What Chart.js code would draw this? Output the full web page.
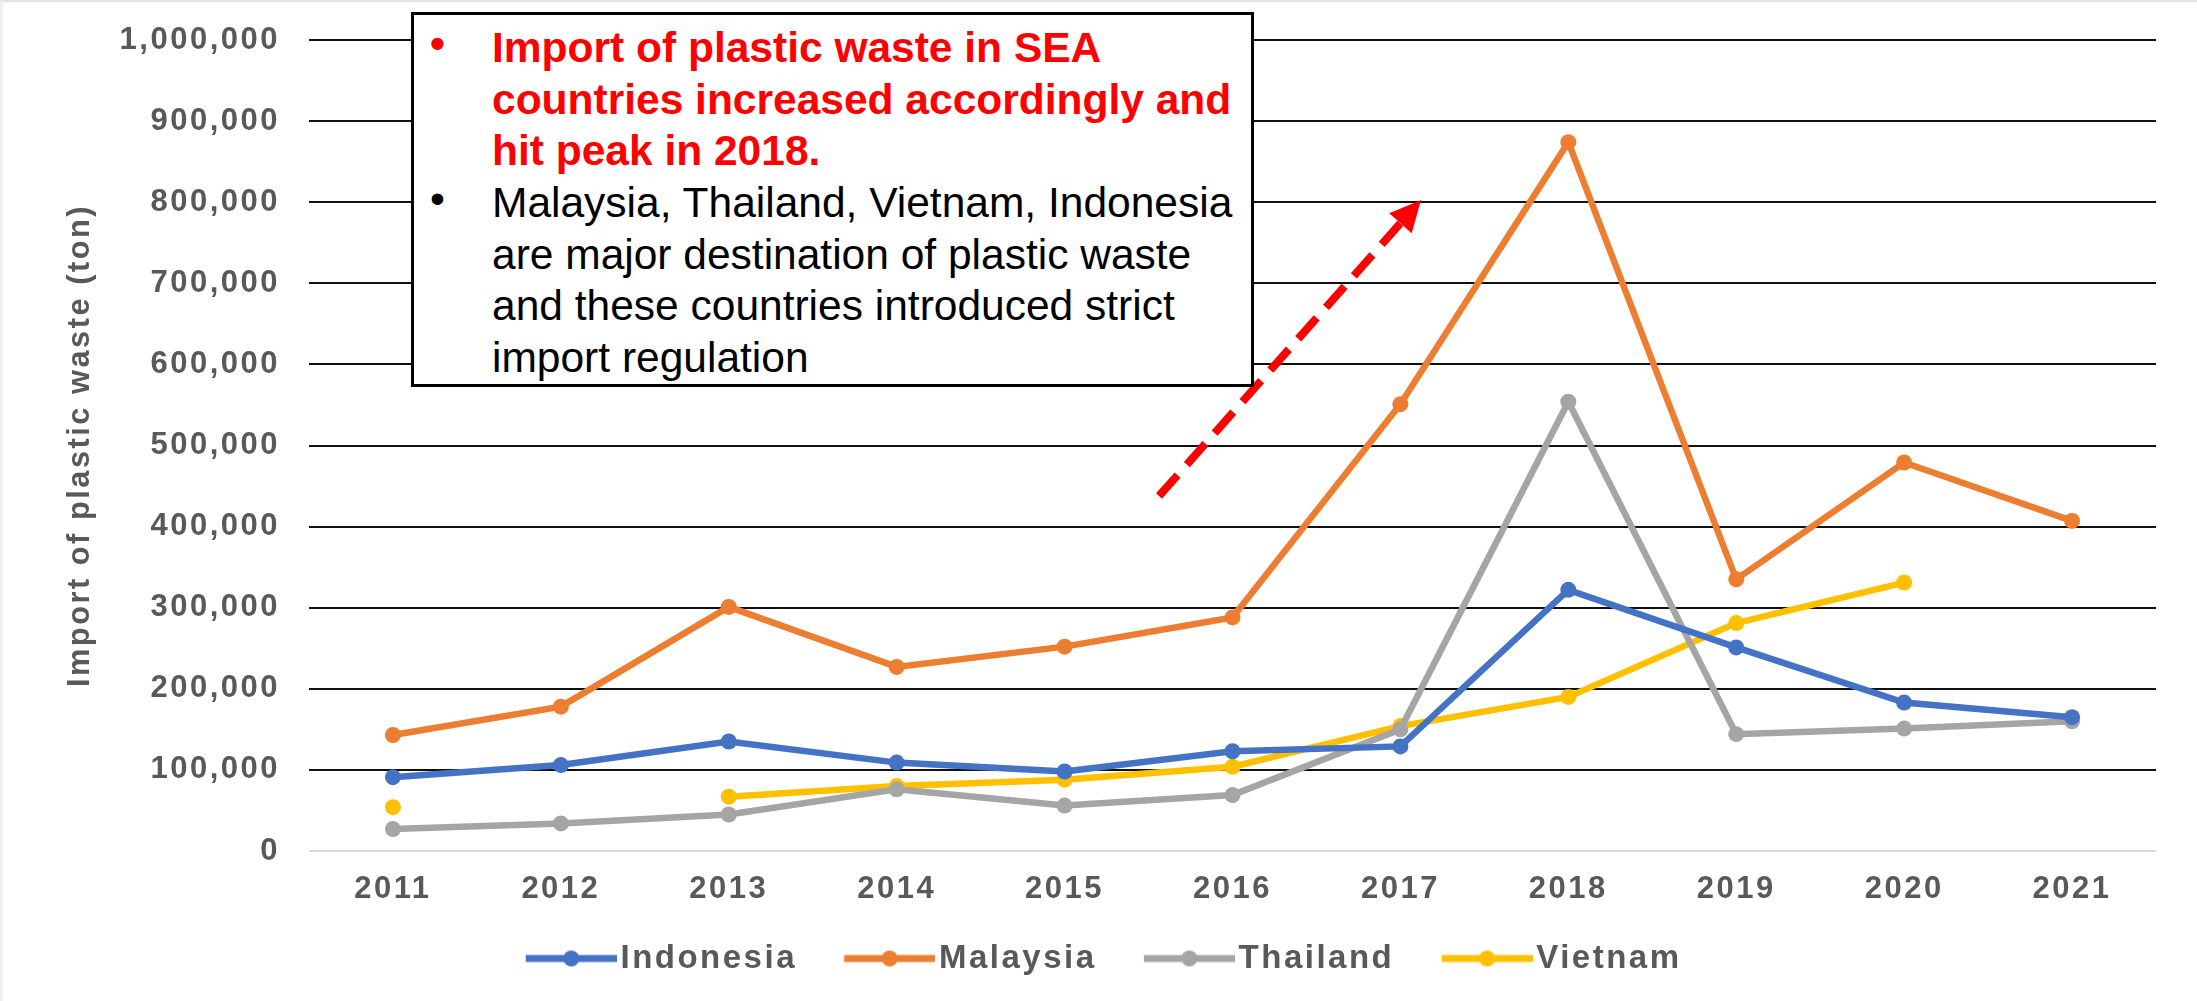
<!DOCTYPE html>
<html>
<head>
<meta charset="utf-8">
<title>Import of plastic waste in SEA countries</title>
<script src="https://cdn.jsdelivr.net/npm/chart.js@4.4.0/dist/chart.umd.min.js"></script>
<style>
    html, body { margin: 0; padding: 0; background: #fff; }
    #wrap { position: relative; width: 2197px; height: 1001px; overflow: hidden; box-sizing: border-box; border-top: 2px solid #e4e4e4; border-left: 3px solid #f0f0f0; }
    #chart { position: absolute; left: -3px; top: -2px; }
    .note {
        position: absolute; left: 408px; top: 10px; width: 843px; height: 375px;
        box-sizing: border-box; border: 3px solid #000; background: #fff;
        font-family: "Liberation Sans", Arial, sans-serif; font-size: 42.5px;
        padding: 7px 0 0 78px;
    }
    .note .line { height: 51.7px; line-height: 51.7px; white-space: nowrap; position: relative; }
    .note .red { color: #ff0000; font-weight: bold; }
    .note .black { color: #000; }
    .note .dot { position: absolute; left: -62px; top: -4px; }
</style>
</head>
<body>
<div id="wrap">
    <canvas id="chart" width="2197" height="1001"></canvas>
    <div class="note">
        <div class="line red"><span class="dot">•</span>Import of plastic waste in SEA</div>
        <div class="line red">countries increased accordingly and</div>
        <div class="line red">hit peak in 2018.</div>
        <div class="line black"><span class="dot">•</span>Malaysia, Thailand, Vietnam, Indonesia</div>
        <div class="line black">are major destination of plastic waste</div>
        <div class="line black">and these countries introduced strict</div>
        <div class="line black">import regulation</div>
    </div>
</div>
<script>
const years = ["2011", "2012", "2013", "2014", "2015", "2016", "2017", "2018", "2019", "2020", "2021"];

// import of plastic waste, ton
const indonesia = [91000, 106000, 135000, 109000, 98000, 123000, 129000, 322000, 251000, 183000, 165000];
const malaysia = [143000, 178000, 301000, 227000, 252000, 288000, 551000, 874000, 335000, 479000, 407000];
const thailand = [27000, 34000, 45000, 76000, 56000, 69000, 150000, 554000, 144000, 151000, 160000];
const vietnam = [54000, null, 67000, 80000, 88000, 104000, 154000, 190000, 281000, 331000, null];

const seriesNames = ["Indonesia", "Malaysia", "Thailand", "Vietnam"];
const seriesColors = ["#4472c4", "#ed7d31", "#a5a5a5", "#ffc000"];

const yTicks = [0, 100000, 200000, 300000, 400000, 500000, 600000, 700000, 800000, 900000, 1000000];

const TEXT_GREY = "#595959";
const LETTER_SPACING = "2.5px";

// legend swatch: line with a round marker in the middle, blank room on the left
function legendIcon(color) {
    const c = document.createElement("canvas");
    c.width = 143;
    c.height = 24;
    const g = c.getContext("2d");
    g.strokeStyle = color;
    g.lineWidth = 7;
    g.beginPath();
    g.moveTo(52, 12);
    g.lineTo(143, 12);
    g.stroke();
    g.fillStyle = color;
    g.beginPath();
    g.arc(97.5, 12, 8, 0, Math.PI * 2);
    g.fill();
    return c;
}

const spacingPlugin = {
    id: "spacing",
    beforeLayout(chart) { chart.ctx.letterSpacing = LETTER_SPACING; },
    beforeDraw(chart) { chart.ctx.letterSpacing = LETTER_SPACING; },
};

const arrowPlugin = {
    id: "arrow",
    afterDraw(chart) {
        const ctx = chart.ctx;
        const x0 = 1159, y0 = 496, tx = 1421, ty = 200;
        const len = Math.hypot(tx - x0, ty - y0);
        const ux = (tx - x0) / len, uy = (ty - y0) / len;
        const head = 31, half = 15;
        const bx = tx - ux * head, by = ty - uy * head;
        ctx.save();
        ctx.strokeStyle = "#ff0000";
        ctx.fillStyle = "#ff0000";
        ctx.lineWidth = 8;
        ctx.setLineDash([28, 14]);
        ctx.beginPath();
        ctx.moveTo(x0, y0);
        ctx.lineTo(bx + ux * 2, by + uy * 2);
        ctx.stroke();
        ctx.setLineDash([]);
        ctx.beginPath();
        ctx.moveTo(tx, ty);
        ctx.lineTo(bx - uy * half, by + ux * half);
        ctx.lineTo(bx + uy * half, by - ux * half);
        ctx.closePath();
        ctx.fill();
        ctx.restore();
    },
};

const datasets = [indonesia, malaysia, thailand, vietnam].map((values, i) => ({
    label: seriesNames[i],
    data: values,
    borderColor: seriesColors[i],
    backgroundColor: seriesColors[i],
    borderWidth: 6.5,
    pointRadius: 8,
    pointBorderWidth: 0,
    pointBackgroundColor: seriesColors[i],
    tension: 0,
    spanGaps: false,
}));

new Chart(document.getElementById("chart"), {
    type: "line",
    data: { labels: years, datasets },
    options: {
        responsive: false,
        animation: false,
        layout: { padding: { left: 12, right: 41, top: 40, bottom: 16 } },
        plugins: {
            tooltip: { enabled: false },
            legend: {
                position: "bottom",
                labels: {
                    usePointStyle: true,
                    pointStyleWidth: 117.5,
                    boxHeight: 33,
                    padding: 8,
                    color: TEXT_GREY,
                    font: { family: "'Liberation Sans', Arial, sans-serif", size: 33, weight: "bold" },
                    generateLabels: (chart) =>
                        chart.data.datasets.map((ds, i) => ({
                            text: ds.label,
                            pointStyle: legendIcon(ds.borderColor),
                            fillStyle: ds.borderColor,
                            strokeStyle: ds.borderColor,
                            lineWidth: 0,
                            hidden: false,
                            fontColor: TEXT_GREY,
                            datasetIndex: i,
                        })),
                },
            },
        },
        scales: {
            x: {
                offset: true,
                grid: { display: false, drawTicks: false },
                border: { display: false },
                ticks: {
                    color: TEXT_GREY,
                    padding: 20,
                    font: { family: "'Liberation Sans', Arial, sans-serif", size: 31, weight: "bold" },
                },
                afterFit: (s) => { s.height = 83; },
            },
            y: {
                min: yTicks[0],
                max: yTicks[yTicks.length - 1],
                afterBuildTicks: (s) => { s.ticks = yTicks.map((v) => ({ value: v })); },
                grid: {
                    drawTicks: false,
                    lineWidth: 2,
                    color: (c) => (c.tick && c.tick.value === 0 ? "#d9d9d9" : "#111"),
                },
                border: { display: false },
                ticks: {
                    color: TEXT_GREY,
                    padding: 29,
                    font: { family: "'Liberation Sans', Arial, sans-serif", size: 31, weight: "bold" },
                    callback: (v) => Number(v).toLocaleString("en-US"),
                },
                title: {
                    display: true,
                    text: "Import of plastic waste (ton)",
                    color: TEXT_GREY,
                    padding: { top: 50, bottom: 0 },
                    font: { family: "'Liberation Sans', Arial, sans-serif", size: 30.8, weight: "bold" },
                },
                afterFit: (s) => {
                    s.width = 297;
                    s.paddingTop = 0;
                    s.paddingBottom = 0;
                },
            },
        },
    },
    plugins: [spacingPlugin, arrowPlugin],
});
</script>
</body>
</html>
